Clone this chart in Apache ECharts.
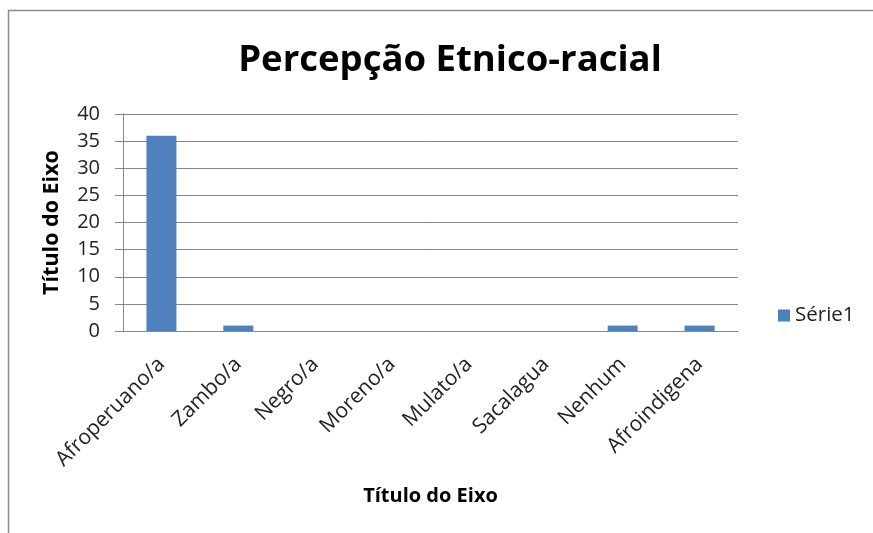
<!DOCTYPE html>
<html><head><meta charset="utf-8">
<script src="https://cdn.jsdelivr.net/npm/echarts@6/dist/echarts.min.js"></script>
<style>html,body{margin:0;padding:0;background:#fff}#c{width:873px;height:533px}</style>
</head><body><div id="c"></div>
<script>
const categories = ['Afroperuano/a','Zambo/a','Negro/a','Moreno/a','Mulato/a','Sacalagua','Nenhum','Afroindigena'];
const values = [36,1,0,0,0,0,1,1];
const seriesName = 'Série1';
const chart = echarts.init(document.getElementById('c'));
const F = '"Open Sans", "Noto Sans", sans-serif';
chart.setOption({
  animation:false,
  graphic:[
    {type:'rect',shape:{x:8.5,y:10.5,width:870,height:540},style:{fill:'none',stroke:'#8c8c8c',lineWidth:1.5}}
  ],
  title:{text:'Percepção Etnico-racial',left:445,top:37,textAlign:'center',
    textStyle:{fontFamily:F,fontSize:36.5,fontWeight:'bold',color:'#000'}},
  legend:{data:[seriesName],left:773,top:300,itemWidth:12,itemHeight:12,itemGap:6,icon:'rect',
    textStyle:{fontFamily:F,fontSize:20.5,color:'#222'}},
  grid:{left:123,right:135,top:114,bottom:202},
  xAxis:{type:'category',data:categories,name:'Título do Eixo',nameLocation:'middle',nameGap:155,
    nameTextStyle:{fontFamily:F,fontSize:20,fontWeight:'bold',color:'#000'},
    axisLine:{lineStyle:{color:'#868686'}},axisTick:{show:false},
    axisLabel:{rotate:45,fontFamily:F,fontSize:21,color:'#222',margin:30,interval:0}},
  yAxis:{type:'value',min:0,max:40,interval:5,name:'Título do Eixo',nameLocation:'middle',nameGap:60,
    nameRotate:90,nameTextStyle:{fontFamily:F,fontSize:21.5,fontWeight:'bold',color:'#000'},
    axisLine:{show:true,lineStyle:{color:'#868686'}},axisTick:{show:true,length:8,lineStyle:{color:'#868686'}},
    splitLine:{lineStyle:{color:'#868686'}},
    axisLabel:{fontFamily:F,fontSize:20,color:'#222',margin:23}},
  series:[{name:seriesName,type:'bar',data:values,barWidth:30,itemStyle:{color:'#4f81bd'}}]
});
</script></body></html>
